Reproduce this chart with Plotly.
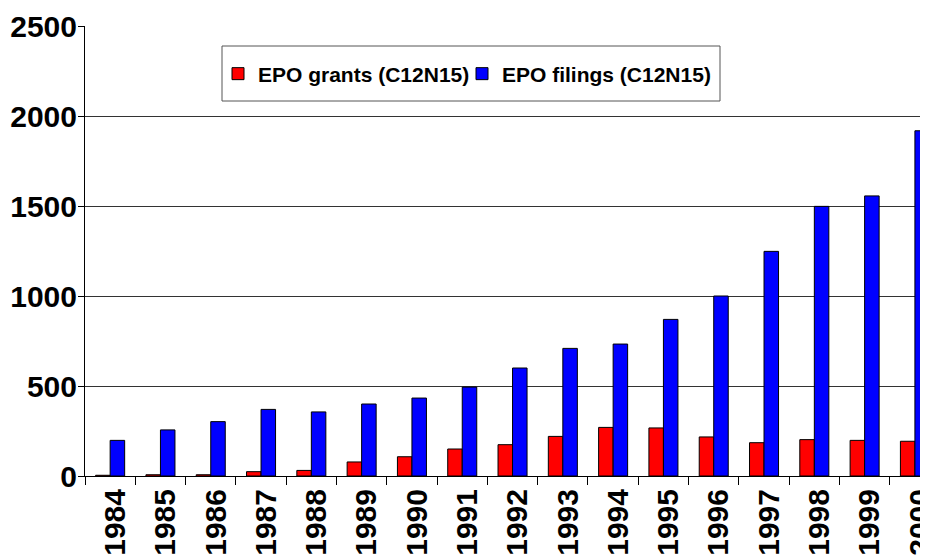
import plotly.graph_objects as go

years = ["1984", "1985", "1986", "1987", "1988", "1989", "1990", "1991", "1992",
         "1993", "1994", "1995", "1996", "1997", "1998", "1999", "2000"]
grants = [4, 7, 7, 24, 31, 78, 107, 150, 174, 220, 270, 267, 217, 185, 202, 198, 193]
filings = [198, 256, 302, 370, 356, 400, 433, 494, 600, 709, 733, 870, 1000, 1248, 1498, 1556, 1918]
y_ticks = [0, 500, 1000, 1500, 2000, 2500]

# page body offset of 8px is compensated in the figure size/margins
W, H = 920, 547
L, R, T, B = 77, 0, 18, 79
pw, ph = W - L - R, H - T - B
PLOT_LEFT, PLOT_BOTTOM = 85, 476  # in window pixels


def px_x(x):
    return (x - PLOT_LEFT) / pw


def px_y(y):
    return (PLOT_BOTTOM - y) / ph


FONT = "Liberation Sans, Arial, sans-serif"
LEG_FONT = dict(size=21, weight="bold", family=FONT, color="black")

fig = go.Figure()
fig.add_trace(go.Bar(name="EPO grants (C12N15)", x=years, y=grants, legend="legend",
                     marker=dict(color="#FF0000", line=dict(color="black", width=1))))
fig.add_trace(go.Bar(name="EPO filings (C12N15)", x=years, y=filings, legend="legend2",
                     marker=dict(color="#0000FF", line=dict(color="black", width=1))))

fig.update_layout(
    width=W, height=H,
    margin=dict(l=L, r=R, t=T, b=B, autoexpand=False),
    paper_bgcolor="white", plot_bgcolor="white",
    barmode="group", bargap=0.423, bargroupgap=0,
    font=dict(family=FONT, color="black"),
    showlegend=True,
    legend=dict(orientation="h", x=px_x(218), xanchor="left",
                y=px_y(74), yanchor="middle",
                bgcolor="rgba(0,0,0,0)", borderwidth=0, font=LEG_FONT),
    legend2=dict(orientation="h", x=px_x(462), xanchor="left",
                 y=px_y(74), yanchor="middle",
                 bgcolor="rgba(0,0,0,0)", borderwidth=0, font=LEG_FONT),
    shapes=[dict(type="rect", xref="paper", yref="paper",
                 x0=px_x(222), x1=px_x(720), y0=px_y(101), y1=px_y(46),
                 line=dict(color="#555555", width=1), fillcolor="white", layer="above")],
)

fig.update_xaxes(type="category", range=[-0.5, 16.26], automargin=False,
                 showline=True, linecolor="black", linewidth=1,
                 ticks="outside", ticklen=8, tickcolor="black", tickson="boundaries",
                 tickangle=-90, showgrid=False, ticklabelshift=5,
                 tickfont=dict(size=30, weight="bold", family=FONT, color="black"))
fig.update_yaxes(range=[0, 2500], tickvals=y_ticks, automargin=False,
                 showline=True, linecolor="black", linewidth=1,
                 ticks="outside", ticklen=6, tickcolor="black",
                 ticklabelstandoff=-5,
                 showgrid=True, gridcolor="#333333", gridwidth=1,
                 zeroline=False,
                 tickfont=dict(size=30, weight="bold", family=FONT, color="black"))

fig.write_html("out.html")
